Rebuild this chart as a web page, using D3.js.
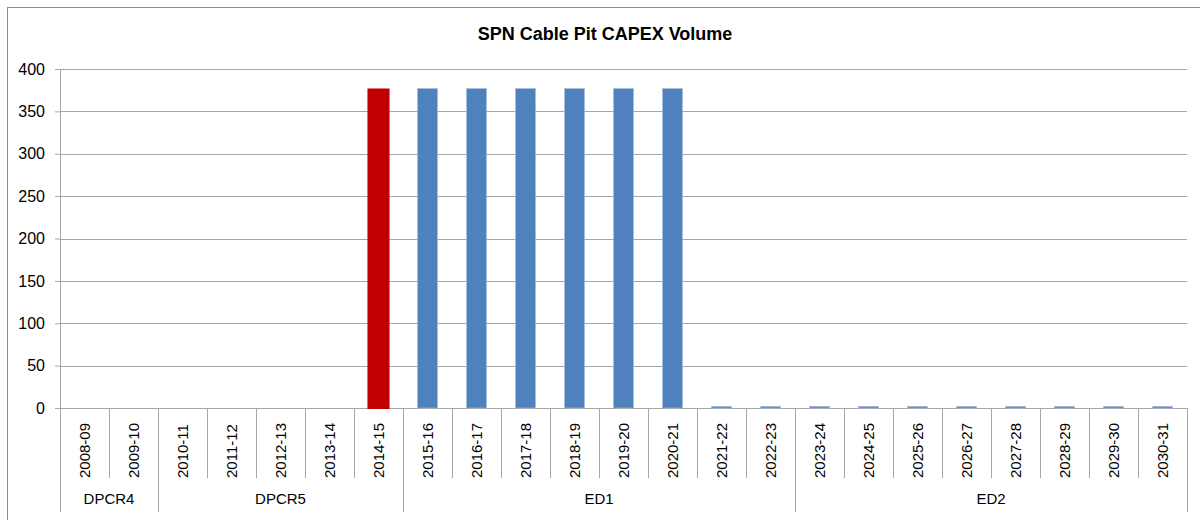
<!DOCTYPE html>
<html>
<head>
<meta charset="utf-8">
<script src="https://cdn.jsdelivr.net/npm/d3@7/dist/d3.min.js"></script>
<style>
  body { margin: 0; background: #fff; }
  svg { font-family: 'Liberation Sans', Arial, sans-serif; }
</style>
</head>
<body>
<div id="chart"></div>
<script>
// 年份类目
var categories = ['2008-09', '2009-10', '2010-11', '2011-12', '2012-13', '2013-14', '2014-15',
  '2015-16', '2016-17', '2017-18', '2018-19', '2019-20', '2020-21', '2021-22', '2022-23',
  '2023-24', '2024-25', '2025-26', '2026-27', '2027-28', '2028-29', '2029-30', '2030-31']
// 监管期分组
var groupNames = ['DPCR4', 'DPCR5', 'ED1', 'ED2']
var groupSizes = [2, 5, 8, 8]
// 实际值（红色）
var actual = [null, null, null, null, null, null, 377,
  null, null, null, null, null, null, null, null,
  null, null, null, null, null, null, null, null]
// 预测值（蓝色）
var forecast = [null, null, null, null, null, null, null,
  377, 377, 377, 377, 377, 377, 2, 2,
  2, 2, 2, 2, 2, 2, 2, 2]
var yTicks = [0, 50, 100, 150, 200, 250, 300, 350, 400]

var width = 1200
var height = 520
var margin = { left: 60, right: 13, top: 69, bottom: 112 }
var gridColor = '#a6a6a6'

var svg = d3.select('#chart').append('svg')
  .attr('width', width)
  .attr('height', height)

// 外框
svg.append('rect')
  .attr('x', 7.5).attr('y', 7.5)
  .attr('width', 1200).attr('height', 530)
  .attr('fill', 'none')
  .attr('stroke', '#8c8c8c')

var x = d3.scaleBand()
  .domain(categories)
  .range([margin.left, width - margin.right])
  .paddingInner(0.59)
  .paddingOuter(0.295)

var y = d3.scaleLinear()
  .domain([0, 400])
  .range([height - margin.bottom, margin.top])

var step = x.step()
var x0 = margin.left
var x1 = width - margin.right
var yBase = y(0)

// 网格线 + y轴
var yAxis = svg.append('g')
  .attr('transform', 'translate(' + x0 + ',0)')
  .call(d3.axisLeft(y).tickValues(yTicks).tickSize(5).tickSizeOuter(0).tickPadding(7))
yAxis.select('.domain').remove()
yAxis.selectAll('.tick line').attr('stroke', gridColor)
yAxis.selectAll('.tick text')
  .attr('fill', '#000')
  .style('font-size', '16px')
  .attr('dx', -3)

svg.append('g').selectAll('line')
  .data(yTicks)
  .enter().append('line')
  .attr('x1', x0).attr('x2', x1)
  .attr('y1', function (d) { return Math.round(y(d)) + 0.5 })
  .attr('y2', function (d) { return Math.round(y(d)) + 0.5 })
  .attr('stroke', gridColor)

// y轴竖线
svg.append('line')
  .attr('x1', x0 + 0.5).attr('x2', x0 + 0.5)
  .attr('y1', y(400)).attr('y2', 512)
  .attr('stroke', gridColor)

// 类目刻度线
var groupEdges = [0]
groupSizes.forEach(function (n, i) { groupEdges.push(groupEdges[i] + n) })

d3.range(categories.length + 1).forEach(function (i) {
  var isGroup = groupEdges.indexOf(i) >= 0
  if (i === 0) return
  svg.append('line')
    .attr('x1', Math.round(x0 + i * step) + 0.5)
    .attr('x2', Math.round(x0 + i * step) + 0.5)
    .attr('y1', yBase)
    .attr('y2', isGroup ? 512 : 478)
    .attr('stroke', gridColor)
})

// 类目文字（竖排）
svg.append('g').selectAll('text')
  .data(categories)
  .enter().append('text')
  .attr('transform', function (d) {
    return 'translate(' + (x(d) + x.bandwidth() / 2 + 5) + ',478)rotate(-90)'
  })
  .attr('text-anchor', 'start')
  .style('font-size', '15px')
  .attr('fill', '#000')
  .text(function (d) { return d })

// 分组文字
svg.append('g').selectAll('text')
  .data(groupNames)
  .enter().append('text')
  .attr('x', function (d, i) {
    return x0 + (groupEdges[i] + groupEdges[i + 1]) / 2 * step
  })
  .attr('y', 504)
  .attr('text-anchor', 'middle')
  .style('font-size', '15px')
  .attr('fill', '#000')
  .text(function (d) { return d })

// 蓝色柱
svg.append('g').selectAll('rect')
  .data(categories.map(function (c, i) { return { cat: c, v: forecast[i] } })
    .filter(function (d) { return d.v != null }))
  .enter().append('rect')
  .attr('x', function (d) { return x(d.cat) })
  .attr('y', function (d) { return y(d.v) })
  .attr('width', x.bandwidth())
  .attr('height', function (d) { return yBase - y(d.v) })
  .attr('fill', '#4f81bd')
  .attr('stroke', '#a9c1e0')
  .attr('stroke-width', 0.6)

// 红色柱
svg.append('g').selectAll('rect')
  .data(categories.map(function (c, i) { return { cat: c, v: actual[i] } })
    .filter(function (d) { return d.v != null }))
  .enter().append('rect')
  .attr('x', function (d) { return x(d.cat) - 1 })
  .attr('y', function (d) { return y(d.v) })
  .attr('width', x.bandwidth() + 2)
  .attr('height', function (d) { return yBase - y(d.v) + 1 })
  .attr('fill', '#c00000')

// 标题
svg.append('text')
  .attr('x', 605)
  .attr('y', 40)
  .attr('text-anchor', 'middle')
  .style('font-size', '18px')
  .style('font-weight', 'bold')
  .attr('fill', '#000')
  .text('SPN Cable Pit CAPEX Volume')
</script>
</body>
</html>
